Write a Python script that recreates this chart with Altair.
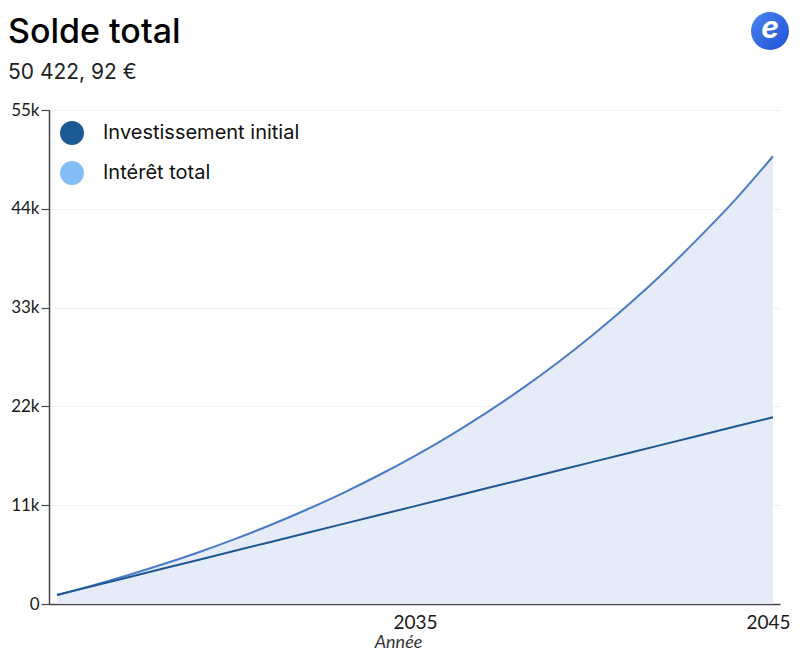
import altair as alt
import pandas as pd

years = list(range(2025, 2046))
invested = [1000, 1990, 2980, 3970, 4960, 5950, 6940, 7930, 8920, 9910, 10900,
            11890, 12880, 13870, 14860, 15850, 16840, 17830, 18820, 19810, 20800]
total = [1000, 2070, 3226, 4474, 5822, 7277, 8849, 10547, 12381, 14362, 16501,
         18811, 21306, 24000, 26910, 30053, 33447, 37113, 41072, 45250, 49850]

legend_names = ["Investissement initial", "Intérêt total"]
legend_colors = ["#1b5a93", "#84bcf5"]
title_text = "Solde total"
subtitle_text = "50 422, 92 €"
x_title = "Année"
y_ticks = [0, 11000, 22000, 33000, 44000, 55000]
x_ticks = [2035, 2045]

df = pd.DataFrame({"year": years, "invested": invested, "total": total})

x_enc = alt.X(
    "year:Q",
    scale=alt.Scale(domain=[2024.777, 2045.196], nice=False, zero=False),
    axis=alt.Axis(
        values=x_ticks, format="d", title=x_title, grid=False, ticks=False,
        labelFont="Lato", labelFontSize=19, labelColor="#1a1a1a", labelPadding=9,
        labelFlush=10, labelFlushOffset=17,
        domainColor="#444444", domainWidth=1.5,
        titleFont="Lato", titleFontSize=18, titleFontStyle="italic",
        titleFontWeight="normal", titleColor="#333333",
        titleX=349, titleY=43, titleBaseline="alphabetic", titleAlign="center",
    ),
)

y_axis = alt.Axis(
    values=y_ticks, title=None,
    labelExpr="datum.value == 0 ? '0' : (datum.value / 1000) + 'k'",
    labelFont="Lato", labelFontSize=17, labelColor="#1a1a1a", labelPadding=2,
    tickSize=8, tickColor="#444444", tickWidth=1.2,
    domainColor="#444444", domainWidth=1.5,
    grid=True, gridColor="#f0f0f0", gridWidth=1,
)
y_scale = alt.Scale(domain=[0, 55000], nice=False)

base = alt.Chart(df)

area = base.mark_area(color="#e5ecf7", interpolate="monotone").encode(
    x=x_enc, y=alt.Y("total:Q", scale=y_scale, axis=y_axis)
)
total_line = base.mark_line(color="#4a7bc6", strokeWidth=2, interpolate="monotone").encode(
    x=x_enc, y=alt.Y("total:Q", scale=y_scale, axis=y_axis)
)
inv_line = base.mark_line(color="#1e5791", strokeWidth=2).encode(
    x=x_enc, y=alt.Y("invested:Q", scale=y_scale, axis=y_axis)
)

legend_layer = alt.Chart(pd.DataFrame({"series": legend_names})).mark_point(
    filled=True, opacity=0, size=0
).encode(
    color=alt.Color(
        "series:N",
        scale=alt.Scale(domain=legend_names, range=legend_colors),
        sort=legend_names,
        legend=alt.Legend(
            title=None, orient="none", legendX=11, legendY=11, padding=0,
            symbolType="circle", symbolSize=576, symbolOpacity=1, symbolStrokeWidth=0,
            labelFont="Inter", labelFontSize=20, labelColor="#111111",
            labelOffset=19, rowPadding=16, labelLimit=500,
        ),
    )
)

one = pd.DataFrame({"k": [0]})
title_layer = alt.Chart(one).mark_text(
    font="Inter", fontSize=34, fontWeight=500, color="#000000",
    align="left", baseline="alphabetic",
).encode(x=alt.value(-41), y=alt.value(-67), text=alt.value(title_text))

subtitle_layer = alt.Chart(one).mark_text(
    font="Inter", fontSize=21, color="#222222",
    align="left", baseline="alphabetic",
).encode(x=alt.value(-41), y=alt.value(-31), text=alt.value(subtitle_text))

logo_circle = alt.Chart(one).mark_circle(
    size=1444, opacity=1,
    color=alt.Gradient(
        gradient="linear",
        stops=[alt.GradientStop(color="#4a86f0", offset=0),
               alt.GradientStop(color="#1f4fd6", offset=1)],
        x1=0, y1=0, x2=1, y2=1,
    ),
).encode(x=alt.value(721), y=alt.value(-79))

logo_text = alt.Chart(one).mark_text(
    font="Inter", fontSize=30, fontWeight="bold", fontStyle="italic",
    color="#ffffff", align="center", baseline="middle", dy=-2,
).encode(x=alt.value(721), y=alt.value(-79), text=alt.value("e"))

chart = alt.layer(
    area, total_line, inv_line, legend_layer,
    title_layer, subtitle_layer, logo_circle, logo_text,
).properties(
    width=731, height=494,
    autosize=alt.AutoSizeParams(type="none"),
    padding={"left": 41, "top": 102, "right": 12, "bottom": 47},
).configure_view(stroke=None)

chart.save("out.html", embed_options={"renderer": "svg", "actions": False})
